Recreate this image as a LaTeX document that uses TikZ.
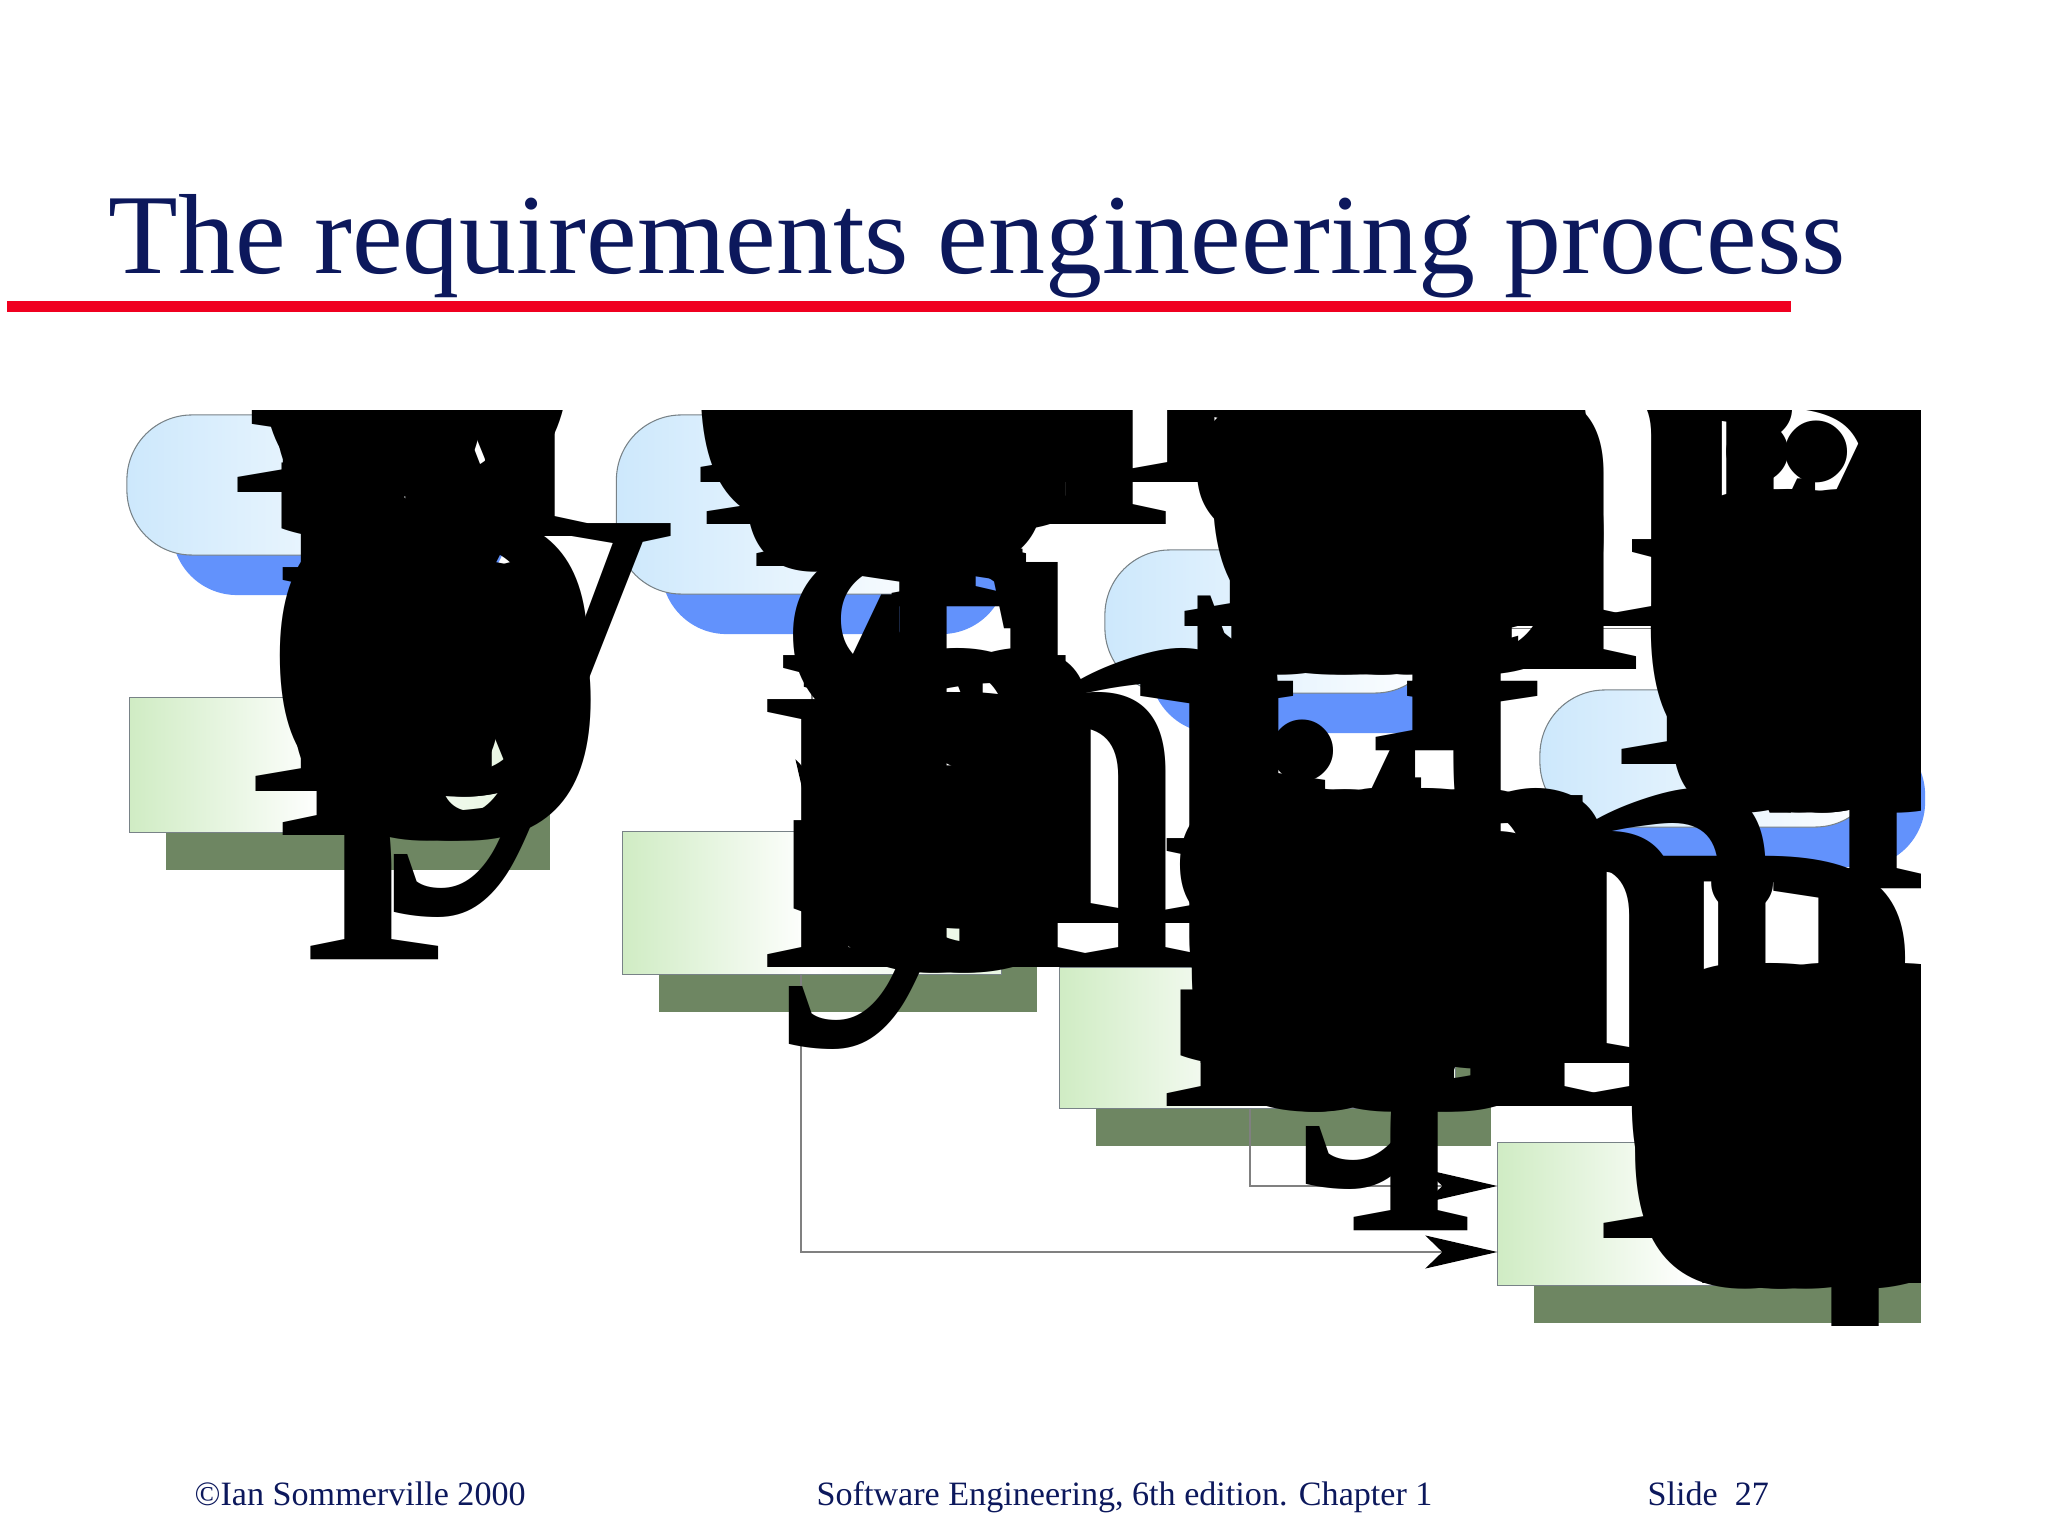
\documentclass[tikz,border=0pt]{standalone}
\usepackage{fontspec}
\setmainfont{Liberation Serif}
\usetikzlibrary{positioning,arrows.meta,shadows,calc}

\definecolor{slidenavy}{RGB}{12,24,92}
\definecolor{titlered}{RGB}{240,0,32}
\definecolor{cloudblue}{RGB}{205,232,252}
\definecolor{shadowblue}{RGB}{98,146,252}
\definecolor{docgreen}{RGB}{208,236,196}
\definecolor{docshadow}{RGB}{110,134,98}
\definecolor{outlinegray}{RGB}{120,130,135}
\definecolor{conngray}{RGB}{128,128,128}

% each letter keeps the small advance of the slide text, but is drawn huge
\newcommand\glyphend{}
\newcommand\glyphrun[1]{\glyphstep#1\glyphend}
\def\glyphstep#1{\ifx#1\glyphend\else\setbox0\hbox{#1}\makebox[\dimexpr\wd0/15\relax][l]{#1}\expandafter\glyphstep\fi}

\tikzset{
  process/.style={rectangle, rounded corners=0.65cm, draw=outlinegray, line width=0.3pt, left color=cloudblue, right color=white, minimum width=3.35cm, minimum height=1.4cm, inner sep=0pt, drop shadow={shadow xshift=0.45cm, shadow yshift=-0.4cm, fill=shadowblue, opacity=1}},
  document/.style={rectangle, draw=outlinegray, line width=0.3pt, left color=docgreen, right color=docgreen!50, middle color=white, minimum width=3.87cm, minimum height=1.42cm, inner sep=0pt, drop shadow={shadow xshift=0.36cm, shadow yshift=-0.38cm, fill=docshadow, opacity=1}},
  conn/.style={draw=conngray, line width=0.45pt, -{Stealth[length=0.72cm, width=0.33cm, inset=0.17cm, black]}},
  glyph/.style={anchor=base, inner sep=0pt, text=black, font=\fontsize{166}{13}\selectfont},
  footer/.style={anchor=base west, inner sep=0pt, text=slidenavy, font=\fontsize{9.7}{12}\selectfont}
}

\begin{document}
\begin{tikzpicture}[x=0.01cm, y=-0.01cm]
  \useasboundingbox (0,0) rectangle (2048,1537);

  % title and rule
  \node[anchor=base west, inner sep=0pt, text=slidenavy, font=\fontsize{32.4}{36}\selectfont] (title) at (108,274) {The requirements engineering process};
  \draw[titlered, line width=0.11cm] (7,307) -- (1791,307);

  % process activities
  \node[process] (feas) at (294.5,485) {};
  \node[process, minimum width=3.45cm, minimum height=1.79cm] (elicit) at (789,504.5) {};
  \node[process, minimum height=1.43cm] (spec) at (1272.5,621.5) {};
  \node[process, minimum width=3.4cm, minimum height=1.37cm] (valid) at (1710,758.5) {};

  % documents
  \node[document, minimum width=3.84cm, minimum height=1.34cm] (feasrep) at (322,765) {};
  \node[document, minimum width=3.78cm] (sysmod) at (812,903) {};
  \node[document, minimum width=3.95cm, minimum height=1.4cm] (userreq) at (1257.5,1038) {};
  \node[document] (reqdoc) at (1691.5,1214) {};

  % connectors
  \coordinate (specout) at ($(spec.east)+(0,7)$);
  \coordinate (sysbend) at (801,1252);
  \coordinate (userbend) at (1250,1186);
  \draw[conn] (elicit.south -| sysmod.north) -- (sysmod.north);
  \draw[conn] (specout) -| (valid.north);
  \draw[conn] (sysmod.south -| sysbend) -- (sysbend) -- (sysbend -| reqdoc.west);
  \draw[conn] (userreq.south -| userbend) -- (userbend) -- (userbend -| reqdoc.west);

  % labels, as the slide prints them
  \begin{scope}
    \clip (120,411) rectangle (1920,1325);
    \node[glyph] (feas-1) at (300,493) {\glyphrun{Feasibility}};
    \node[glyph] (feas-2) at (300,537) {\glyphrun{study}};
    \node[glyph] (elicit-1) at (789,483) {\glyphrun{Requirements}};
    \node[glyph] (elicit-2) at (789,525) {\glyphrun{elicitation~and}};
    \node[glyph] (elicit-3) at (789,567) {\glyphrun{analysis}};
    \node[glyph] (spec-1) at (1272.5,627) {\glyphrun{Requirements}};
    \node[glyph] (spec-2) at (1272.5,670) {\glyphrun{specification}};
    \node[glyph] (valid-1) at (1710,765) {\glyphrun{Requirements}};
    \node[glyph] (valid-2) at (1710,808) {\glyphrun{validation}};
    \node[glyph] (feasrep-1) at (318,791) {\glyphrun{Feasibility}};
    \node[glyph] (feasrep-2) at (318,836) {\glyphrun{report}};
    \node[glyph] (sysmod-1) at (812,923) {\glyphrun{System}};
    \node[glyph] (sysmod-2) at (812,968) {\glyphrun{models}};
    \node[glyph] (userreq-1) at (1257.5,1063) {\glyphrun{User~and~system}};
    \node[glyph] (userreq-2) at (1257.5,1106) {\glyphrun{requirements}};
    \node[glyph] (reqdoc-1) at (1691.5,1238) {\glyphrun{Requirements}};
    \node[glyph] (reqdoc-2) at (1691.5,1283) {\glyphrun{document}};
  \end{scope}

  % footer
  \node[footer] (copy) at (194,1505) {©Ian Sommerville 2000};
  \node[footer] (book) at (816,1505) {Software Engineering, 6th edition. Chapter 1};
  \node[footer] (slide) at (1647,1505) {Slide\ \ 27};
\end{tikzpicture}
\end{document}
